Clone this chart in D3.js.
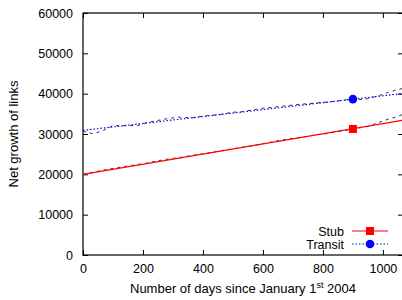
<!DOCTYPE html>
<html>
<head>
<meta charset="utf-8">
<script src="https://cdn.jsdelivr.net/npm/d3@7"></script>
<style>
  body { margin: 0; background: #fff; }
  svg { display: block; font-family: "Liberation Sans", Arial, sans-serif; }
</style>
</head>
<body>
<div id="viz"></div>
<script>
const width = 402;
const height = 300;

// Measured data (day, links)
const transitData = [
  [0, 30700], [33, 30070], [62, 30700], [100, 32060], [146, 32060], [183, 32130],
  [212, 32800], [250, 33380], [283, 33800], [317, 34200], [362, 33950], [401, 34440],
  [423, 34600], [462, 34860], [499, 35430], [523, 35430], [562, 35930], [603, 36430],
  [629, 36600], [668, 36920], [710, 37270], [773, 37670], [812, 37920], [840, 38090],
  [879, 38510], [940, 38590], [979, 39330], [1018, 40320], [1040, 40820], [1067, 41300]
];
const stubData = [
  [0, 20000], [79, 21220], [107, 21540], [146, 22040], [190, 22530], [212, 22780],
  [251, 23370], [290, 23870], [318, 24120], [357, 24610], [401, 25110], [434, 25510],
  [479, 26100], [557, 27000], [607, 27700], [673, 28660], [707, 28990], [746, 29400],
  [779, 29830], [812, 30070], [840, 30480], [951, 31890], [984, 32800], [1023, 33800],
  [1051, 34370], [1067, 34900]
];

// Fitted lines (endpoints) and the single marker on each
const stubFit = [[0, 20000], [1067, 33400]];
const transitFit = [[0, 30900], [1067, 40050]];
const stubMarker = [[900, 31250]];
const transitMarker = [[900, 38650]];

const xTicks = [0, 200, 400, 600, 800, 1000];
const yTicks = [0, 10000, 20000, 30000, 40000, 50000, 60000];

const plotLeft = 83, plotRight = 403, plotTop = 13, plotBottom = 255;

const svg = d3.select("#viz")
  .append("svg")
  .attr("width", width)
  .attr("height", height);

const x = d3.scaleLinear().domain([0, 1067]).range([plotLeft, plotRight]);
const y = d3.scaleLinear().domain([0, 60000]).range([plotBottom, plotTop]);

svg.append("defs").append("clipPath").attr("id", "clip")
  .append("rect")
  .attr("x", plotLeft).attr("y", plotTop)
  .attr("width", plotRight - plotLeft).attr("height", plotBottom - plotTop);

const line = d3.line().x(d => x(d[0])).y(d => y(d[1]));
const fmt = d3.format("d");

// Axes with inward ticks, mirrored on top and right
const axisStyle = g => {
  g.select(".domain").remove();
  g.selectAll("line").attr("stroke", "#000");
  g.selectAll("text").attr("font-size", "12.5px").attr("fill", "#000");
};

svg.append("g")
  .attr("transform", `translate(0,${plotBottom})`)
  .call(d3.axisBottom(x).tickValues(xTicks).tickFormat(fmt).tickSizeInner(-5).tickSizeOuter(0).tickPadding(9))
  .call(axisStyle);

svg.append("g")
  .attr("transform", `translate(0,${plotTop})`)
  .call(d3.axisTop(x).tickValues(xTicks).tickSizeInner(-5).tickSizeOuter(0).tickFormat(""))
  .call(axisStyle);

svg.append("g")
  .attr("transform", `translate(${plotLeft},0)`)
  .call(d3.axisLeft(y).tickValues(yTicks).tickFormat(fmt).tickSizeInner(-5).tickSizeOuter(0).tickPadding(10))
  .call(axisStyle);

svg.append("g")
  .attr("transform", `translate(${plotRight},0)`)
  .call(d3.axisRight(y).tickValues(yTicks).tickSizeInner(-5).tickSizeOuter(0).tickFormat(""))
  .call(axisStyle);

// Border
svg.append("rect")
  .attr("x", plotLeft).attr("y", plotTop)
  .attr("width", plotRight - plotLeft).attr("height", plotBottom - plotTop)
  .attr("fill", "none")
  .attr("stroke", "#000")
  .attr("stroke-width", 1.2);

const plot = svg.append("g").attr("clip-path", "url(#clip)");

// Measured data as black dashed lines
[stubData, transitData].forEach(data => {
  plot.append("path")
    .datum(data)
    .attr("d", line)
    .attr("fill", "none")
    .attr("stroke", "#333")
    .attr("stroke-width", 1)
    .attr("stroke-dasharray", "3,4");
});

// Fits
plot.append("path")
  .datum(stubFit)
  .attr("d", line)
  .attr("fill", "none")
  .attr("stroke", "#ff0000")
  .attr("stroke-width", 1.2);

plot.append("path")
  .datum(transitFit)
  .attr("d", line)
  .attr("fill", "none")
  .attr("stroke", "#0000ff")
  .attr("stroke-width", 1.2)
  .attr("stroke-dasharray", "1.5,2");

plot.selectAll(".sq")
  .data(stubMarker)
  .join("rect")
  .attr("x", d => x(d[0]) - 4)
  .attr("y", d => y(d[1]) - 4)
  .attr("width", 8).attr("height", 8)
  .attr("fill", "#ff0000");

plot.selectAll(".ci")
  .data(transitMarker)
  .join("circle")
  .attr("cx", d => x(d[0]))
  .attr("cy", d => y(d[1]))
  .attr("r", 4.3)
  .attr("fill", "#0000ff");

// Legend
const legend = [
  { label: "Stub", color: "#ff0000", dash: null, shape: "square" },
  { label: "Transit", color: "#0000ff", dash: "1.5,2", shape: "circle" }
];
const lg = svg.append("g");
legend.forEach((d, i) => {
  const ly = 231 + i * 13;
  lg.append("text")
    .attr("x", 344).attr("y", ly + 4.5)
    .attr("text-anchor", "end")
    .attr("font-size", "12.5px")
    .text(d.label);
  lg.append("line")
    .attr("x1", 352).attr("x2", 388)
    .attr("y1", ly).attr("y2", ly)
    .attr("stroke", d.color)
    .attr("stroke-width", 1.2)
    .attr("stroke-dasharray", d.dash);
  if (d.shape === "square") {
    lg.append("rect")
      .attr("x", 366).attr("y", ly - 4)
      .attr("width", 8).attr("height", 8)
      .attr("fill", d.color);
  } else {
    lg.append("circle")
      .attr("cx", 370).attr("cy", ly)
      .attr("r", 4.3)
      .attr("fill", d.color);
  }
});

// Axis titles
svg.append("text")
  .attr("transform", `translate(18,${(plotTop + plotBottom) / 2}) rotate(-90)`)
  .attr("text-anchor", "middle")
  .attr("font-size", "13px")
  .text("Net growth of links");

const xl = svg.append("text")
  .attr("x", 243).attr("y", 293)
  .attr("text-anchor", "middle")
  .attr("font-size", "13px");
xl.append("tspan").text("Number of days since January 1");
xl.append("tspan").attr("font-size", "9px").attr("dy", -5).text("st");
xl.append("tspan").attr("dy", 5).text(" 2004");
</script>
</body>
</html>
